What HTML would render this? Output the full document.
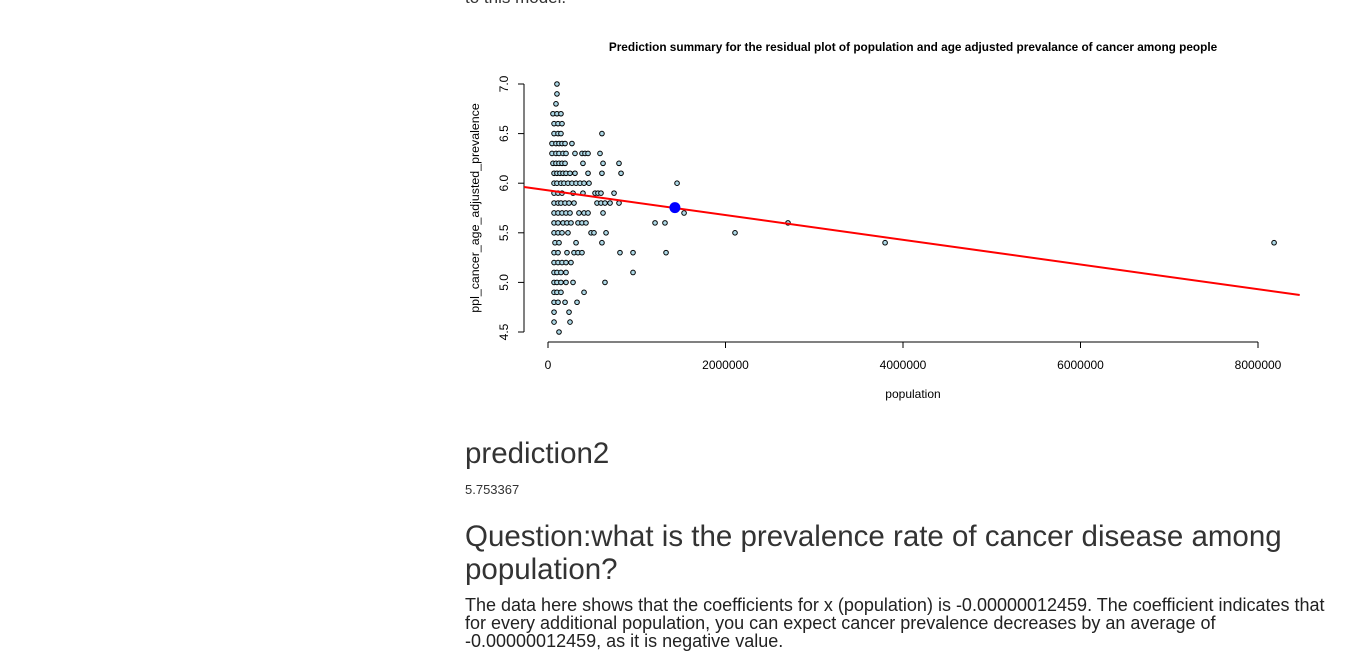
<!DOCTYPE html>
<html><head><meta charset="utf-8"><style>
body{margin:0;width:1349px;height:659px;overflow:hidden;background:#fff;font-family:"Liberation Sans",Arial,sans-serif;color:#333;position:relative}
.t{position:absolute;left:465px;white-space:nowrap}
</style></head><body>
<div class="t" style="top:-12px;font-size:17px;">to this model.</div>
<svg id="chart" width="1349" height="420" style="position:absolute;left:0;top:0" xmlns="http://www.w3.org/2000/svg"></svg>
<div class="t" style="top:437px;font-size:29.5px;">prediction2</div>
<div class="t" style="top:482px;font-size:13px;">5.753367</div>
<div class="t" style="top:520px;font-size:29.5px;line-height:33px;white-space:normal;width:870px;">Question:what is the prevalence rate of cancer disease among population?</div>
<div class="t" style="top:596px;font-size:18px;line-height:18px;white-space:normal;width:866px;color:#222">The data here shows that the coefficients for x (population) is -0.00000012459. The coefficient indicates that for every additional population, you can expect cancer prevalence decreases by an average of -0.00000012459, as it is negative value.</div>
<script>
// data: population in thousands per prevalence row
const rowY=[7.0,6.9,6.8,6.7,6.6,6.5,6.4,6.3,6.2,6.1,6.0,5.9,5.8,5.7,5.6,5.5,5.4,5.3,5.2,5.1,5.0,4.9,4.8,4.7,4.6,4.5];
const rowX=[[101],[101],[90],[56,101,146],[68,113,158],[68,113,146,608],[45,90,124,158,192,270],[45,90,124,169,203,304,383,417,451,586],[56,90,124,158,192,394,620,800],[68,101,135,169,203,248,304,451,608,823],[68,101,146,180,225,270,316,361,406,462,1454],[68,113,158,282,394,530,563,597,744],[68,113,146,192,237,293,552,597,642,699,800],[68,113,158,203,248,349,406,451,620,1533],[68,113,169,214,259,338,383,428,1206,1318,2704],[68,113,158,225,485,518,654,2107],[79,124,316,608,3798,8181],[68,113,214,293,338,383,811,958,1330],[68,113,158,203,259],[68,101,146,203,958],[68,101,146,203,282,642],[68,101,146,406],[68,113,192,327],[68,237],[68,248],[124]];
const intercept=5.928, slope=-0.12459; // per million
const predX=[1430], predY=[5.753367];
const xTicks=[0,2000000,4000000,6000000,8000000];
const yTicks=[4.5,5.0,5.5,6.0,6.5,7.0];
const NS="http://www.w3.org/2000/svg";
const svg=document.getElementById('chart');
const X=v=>548+v/1000000*88.75;
const Y=v=>84+(7-v)*99.2;
function mk(t,a,txt){const e=document.createElementNS(NS,t);for(const k in a)e.setAttribute(k,a[k]);if(txt!==undefined)e.textContent=txt;svg.appendChild(e);return e;}
let e;
e=mk('text',{x:913,y:51,'text-anchor':'middle','font-size':'11.8','font-weight':'bold',fill:'#000'},'Prediction summary for the residual plot of population and age adjusted prevalance of cancer among people');


e=mk('line',{x1:524,y1:Y(7),x2:524,y2:Y(4.5),stroke:'#000'});


yTicks.forEach(t=>{mk('line',{x1:518,y1:Y(t),x2:524,y2:Y(t),stroke:'#000'});
 e=mk('text',{x:0,y:0,transform:`translate(508,${Y(t)}) rotate(-90)`,'text-anchor':'middle','font-size':'12',fill:'#000'},t.toFixed(1));
 
 });
e=mk('text',{x:0,y:0,transform:'translate(479,208) rotate(-90)','text-anchor':'middle','font-size':'12.4',fill:'#000'},'ppl_cancer_age_adjusted_prevalence');


e=mk('line',{x1:X(0),y1:342,x2:X(8000000),y2:342,stroke:'#000'});


xTicks.forEach(t=>{mk('line',{x1:X(t),y1:342,x2:X(t),y2:348,stroke:'#000'});
 e=mk('text',{x:X(t),y:369,'text-anchor':'middle','font-size':'12',fill:'#000'},String(t));
 
 });
e=mk('text',{x:913,y:398,'text-anchor':'middle','font-size':'12',fill:'#000'},'population');


rowY.forEach((yv,i)=>rowX[i].forEach(xk=>{
 e=mk('circle',{cx:X(xk*1000),cy:Y(yv),r:2.3,fill:'#add8e6',stroke:'#000','stroke-width':1});
 
 }));
const x0=-270000,x1=8470000;
e=mk('line',{x1:X(x0),y1:Y(intercept+slope*x0/1e6),x2:X(x1),y2:Y(intercept+slope*x1/1e6),stroke:'#f00','stroke-width':2});


e=mk('circle',{cx:X(predX[0]*1000),cy:Y(predY[0]),r:5.5,fill:'#00f'});


</script>
</body></html>
